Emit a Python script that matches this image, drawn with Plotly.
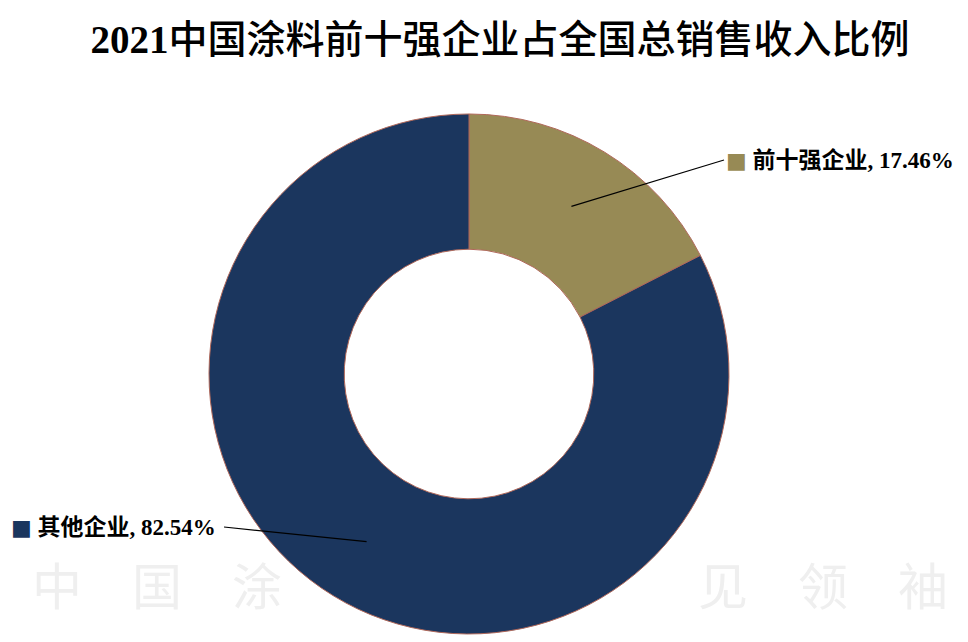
import math
import plotly.graph_objects as go

title_year = "2021"
title_text = "中国涂料前十强企业占全国总销售收入比例"
labels = ["前十强企业", "其他企业"]
values = [17.46, 82.54]
colors = ["#978a55", "#1b365e"]

W, H = 968, 642
OFF = 8  # page body margin offset
cx, cy, R = 469 - OFF, 374 - OFF, 260
hole = 0.48

fig = go.Figure()
fig.add_trace(go.Pie(
    labels=labels, values=values, sort=False, direction="clockwise", rotation=0,
    hole=hole, textinfo="none", hoverinfo="label+percent",
    marker=dict(colors=colors, line=dict(color="#b0685a", width=1)),
    domain=dict(x=[(cx - R) / W, (cx + R) / W], y=[(H - cy - R) / H, (H - cy + R) / H]),
    showlegend=False,
))

total = sum(values)
rmid = R * (1 + hole) / 2 + 4
label_pos = [(724 - OFF, 160 - OFF, "left"), (224 - OFF, 527 - OFF, "right")]
cum = 0
for (lab, v, col), (lx, ly, side) in zip(zip(labels, values, colors), label_pos):
    ang = (cum + v / 2) / total * 2 * math.pi
    cum += v
    px = cx + rmid * math.sin(ang)
    py = cy - rmid * math.cos(ang)
    fig.add_shape(type="line", xref="paper", yref="paper",
                  x0=px / W, y0=1 - py / H, x1=lx / W, y1=1 - ly / H,
                  line=dict(color="black", width=1.2))
    text = f"<b>{lab}, {v:.2f}%</b>"
    sq = f"<span style='color:{col};font-size:22px;font-family:DejaVu Sans'>■</span>"
    if side == "left":
        fig.add_annotation(x=(lx) / W, y=1 - ly / H, xref="paper", yref="paper",
                           xanchor="left", yanchor="middle", showarrow=False,
                           text=sq + " " + text, font=dict(size=23, color="black"))
    else:
        fig.add_annotation(x=(lx - 6) / W, y=1 - ly / H, xref="paper", yref="paper",
                           xanchor="right", yanchor="middle", showarrow=False,
                           text=sq + " " + text, font=dict(size=23, color="black"))

# faint watermark text
fig.add_annotation(x=(30 - OFF) / W, y=1 - (583 - OFF) / H, xref="paper", yref="paper", xanchor="left",
                   yanchor="middle", showarrow=False, text="中　国　涂",
                   font=dict(size=50, color="#efefef", family="Noto Sans CJK SC"))
fig.add_annotation(x=(950 - OFF) / W, y=1 - (583 - OFF) / H, xref="paper", yref="paper", xanchor="right",
                   yanchor="middle", showarrow=False, text="见　领　袖",
                   font=dict(size=50, color="#efefef", family="Noto Sans CJK SC"))

fig.update_layout(
    width=W, height=H,
    margin=dict(l=0, r=0, t=0, b=0),
    paper_bgcolor="white", plot_bgcolor="white",
    font=dict(family="Liberation Serif, Noto Sans CJK SC", color="black"),
    title=dict(text=f"<b>{title_year}</b><span style='font-family:Noto Sans CJK SC;font-weight:500'>{title_text}</span>",
               x=(500 - OFF) / W, xanchor="center", y=1 - (39 - OFF) / H, yanchor="middle",
               font=dict(size=39, color="black")),
)
fig.write_html("out.html")
